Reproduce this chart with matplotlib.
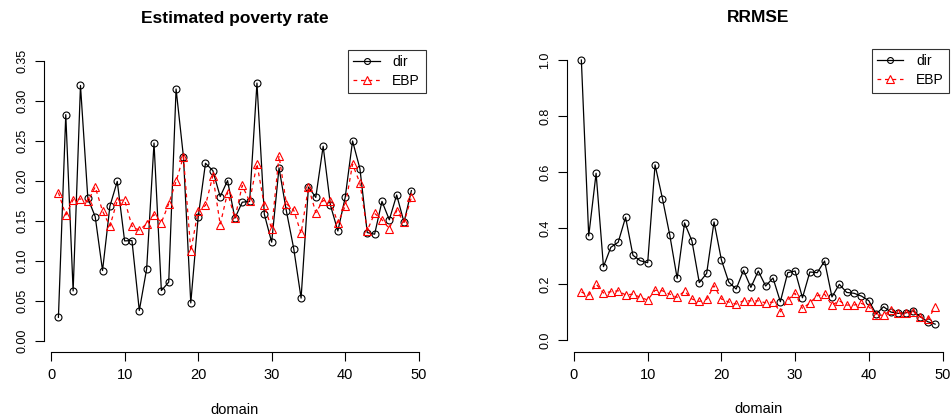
import matplotlib
matplotlib.use("Agg")
import matplotlib.pyplot as plt

plt.rcParams['font.family'] = ['Liberation Sans', 'DejaVu Sans']

# 数据
domain = list(range(1, 50))
pov_dir = [0.029, 0.2825, 0.062, 0.319, 0.178, 0.155, 0.0875, 0.168, 0.199, 0.1246,
           0.125, 0.0375, 0.0896, 0.247, 0.0625, 0.073, 0.3146, 0.230, 0.047, 0.154,
           0.2217, 0.2125, 0.180, 0.200, 0.153, 0.173, 0.174, 0.322, 0.158, 0.123,
           0.216, 0.162, 0.115, 0.053, 0.192, 0.179, 0.243, 0.169, 0.137, 0.179,
           0.2496, 0.215, 0.135, 0.133, 0.174, 0.151, 0.182, 0.148, 0.1875]
pov_ebp = [0.185, 0.157, 0.176, 0.177, 0.174, 0.192, 0.162, 0.143, 0.175, 0.176,
           0.143, 0.138, 0.146, 0.1575, 0.1475, 0.171, 0.199, 0.230, 0.112, 0.162,
           0.169, 0.206, 0.145, 0.185, 0.153, 0.194, 0.174, 0.221, 0.169, 0.1396,
           0.231, 0.171, 0.163, 0.134, 0.192, 0.160, 0.175, 0.174, 0.147, 0.168,
           0.2205, 0.197, 0.1375, 0.159, 0.151, 0.140, 0.1625, 0.148, 0.179]
rrmse_dir = [1.0, 0.3725, 0.596, 0.263, 0.332, 0.350, 0.439, 0.3035, 0.284, 0.277,
             0.626, 0.506, 0.375, 0.221, 0.419, 0.355, 0.206, 0.239, 0.4225, 0.287,
             0.208, 0.183, 0.250, 0.189, 0.2475, 0.194, 0.2225, 0.138, 0.2415, 0.2475,
             0.152, 0.244, 0.2415, 0.283, 0.155, 0.200, 0.171, 0.168, 0.158, 0.1415,
             0.094, 0.120, 0.101, 0.0964, 0.098, 0.106, 0.084, 0.0665, 0.058]
rrmse_ebp = [0.1725, 0.161, 0.201, 0.169, 0.1736, 0.177, 0.162, 0.165, 0.1536, 0.144,
             0.1786, 0.177, 0.165, 0.1536, 0.176, 0.1475, 0.139, 0.1464, 0.195, 0.1475,
             0.1368, 0.1296, 0.1414, 0.141, 0.141, 0.134, 0.1368, 0.102, 0.144, 0.168,
             0.114, 0.134, 0.159, 0.165, 0.126, 0.141, 0.126, 0.126, 0.132, 0.120,
             0.090, 0.090, 0.108, 0.0964, 0.099, 0.102, 0.083, 0.075, 0.118]
xticks = [0, 10, 20, 30, 40, 50]
pov_yticks = [0.00, 0.05, 0.10, 0.15, 0.20, 0.25, 0.30, 0.35]
rrmse_yticks = [0.0, 0.2, 0.4, 0.6, 0.8, 1.0]

W, H = 951, 419
fig = plt.figure(figsize=(W / 100, H / 100), dpi=100)


def rect(x0, x1, ytop, ybot):
    return [x0 / W, (H - ybot) / H, (x1 - x0) / W, (ybot - ytop) / H]


ax1 = fig.add_axes(rect(44.3, 425.5, 49.5, 351.7))
ax2 = fig.add_axes(rect(567.2, 949.3, 48.8, 351.6))

panels = [
    (ax1, pov_dir, pov_ebp, "Estimated poverty rate", pov_yticks, "%.2f"),
    (ax2, rrmse_dir, rrmse_ebp, "RRMSE", rrmse_yticks, "%.1f"),
]

for ax, d, e, title, yt, fmt in panels:
    ax.plot(domain, d, color="black", lw=0.9, marker="o", ms=5,
            mfc="none", mec="black", mew=0.8, label="dir")
    ax.plot(domain, e, color="red", lw=0.9, ls=(0, (3, 3)), marker="^", ms=6,
            mfc="none", mec="red", mew=0.8, label="EBP")
    ylo, yhi = yt[0], yt[-1]
    pad = (yhi - ylo) * 0.04
    ax.set_xlim(-0.92, 50.92)
    ax.set_ylim(ylo - pad, yhi + pad)
    ax.set_xticks(xticks)
    ax.set_yticks(yt)
    ax.set_yticklabels([fmt % v for v in yt], rotation=90, va="center")
    for s in ["top", "right"]:
        ax.spines[s].set_visible(False)
    ax.spines["left"].set_bounds(ylo, yhi)
    ax.spines["bottom"].set_bounds(0, 50)
    ax.tick_params(direction="out", length=6.5, width=0.8, pad=5)
    ax.tick_params(axis="x", labelsize=10.5)
    ax.tick_params(axis="y", labelsize=9)
    ax.set_xlabel("domain", fontsize=10.5, labelpad=15)
    ax.set_title(title, fontsize=12.5, fontweight="bold", pad=19)
    leg = ax.legend(loc="upper right", bbox_to_anchor=(1.0, 1.0), fontsize=10,
                    frameon=True, fancybox=False, edgecolor="black",
                    borderaxespad=0, handlelength=1.9, handletextpad=0.9,
                    labelspacing=0.35, borderpad=0.4, markerscale=0.85)
    leg.get_frame().set_linewidth(0.8)

fig.savefig("out.png", dpi=100)
